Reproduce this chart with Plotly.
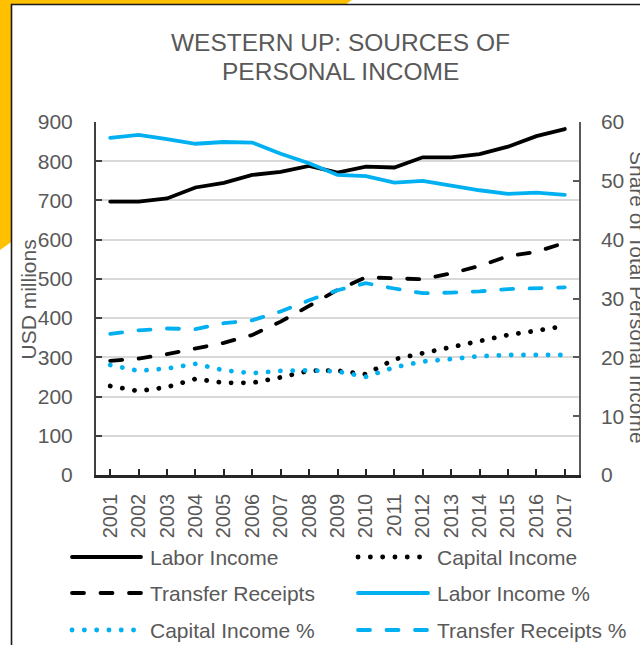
import plotly.graph_objects as go

years = ["2001", "2002", "2003", "2004", "2005", "2006", "2007", "2008", "2009",
         "2010", "2011", "2012", "2013", "2014", "2015", "2016", "2017"]

labor_income = [697, 697, 705, 733, 745, 765, 773, 788, 771, 786, 784, 810, 810, 818, 837, 864, 882]
capital_income = [227, 214, 224, 245, 235, 235, 249, 266, 266, 257, 295, 310, 326, 342, 357, 368, 380]
transfer_receipts = [291, 297, 308, 323, 337, 357, 391, 431, 472, 504, 501, 499, 514, 533, 558, 569, 592]

labor_pct = [57.3, 57.8, 57.1, 56.3, 56.6, 56.5, 54.6, 53.0, 51.0, 50.8, 49.7, 50.0, 49.2, 48.4, 47.8, 48.0, 47.6]
capital_pct = [18.7, 17.7, 18.1, 18.9, 17.8, 17.3, 17.7, 17.8, 17.6, 16.7, 18.3, 19.3, 19.7, 20.2, 20.4, 20.3, 20.4]
transfer_pct = [24.0, 24.6, 24.9, 24.8, 25.8, 26.3, 27.8, 29.7, 31.4, 32.6, 31.7, 30.9, 31.0, 31.2, 31.6, 31.7, 31.9]

left_ticks = [0, 100, 200, 300, 400, 500, 600, 700, 800, 900]
right_ticks = [0, 10, 20, 30, 40, 50, 60]

FONT = "Liberation Sans, Arial, sans-serif"
GREY = "#595959"
BLACK = "#000000"
BLUE = "#00B0F0"
DOT = "0.1px,12.2px"
DASH = "12px,16.5px"

W, H = 640, 645
L, R, T, B = 96, 579, 122, 475


def px(x):
    return (x - L) / (R - L)


def py(y):
    return (B - y) / (B - T)


fig = go.Figure()

series = [
    ("Labor Income", labor_income, BLACK, "solid", "y", 3.8),
    ("Capital Income", capital_income, BLACK, DOT, "y", 4.8),
    ("Transfer Receipts", transfer_receipts, BLACK, DASH, "y", 3.8),
    ("Labor Income %", labor_pct, BLUE, "solid", "y2", 3.8),
    ("Capital Income %", capital_pct, BLUE, DOT, "y2", 4.8),
    ("Transfer Receipts %", transfer_pct, BLUE, DASH, "y2", 3.8),
]
for name, vals, col, dash, yax, w in series:
    fig.add_trace(go.Scatter(x=years, y=vals, name=name, mode="lines", yaxis=yax,
                             line=dict(color=col, dash=dash, width=w), showlegend=False))

shapes = []
# yellow corner shape
shapes.append(dict(type="path", xref="paper", yref="paper", layer="below",
                   path=f"M{px(-10)},{py(-10)} L{px(366)},{py(-10)} L{px(-10)},{py(257)} Z",
                   fillcolor="#FFC000", line=dict(width=0)))
# white card
shapes.append(dict(type="rect", xref="paper", yref="paper", layer="below",
                   x0=px(11.5), y0=py(4.5), x1=px(700), y1=py(700),
                   fillcolor="white", line=dict(color="#1a1a1a", width=1.6)))

annotations = []
annotations.append(dict(text="WESTERN UP: SOURCES OF", xref="paper", yref="paper",
                        x=px(340), y=py(43), xanchor="center", yanchor="middle", showarrow=False,
                        font=dict(family=FONT, size=24.5, color=GREY)))
annotations.append(dict(text="PERSONAL INCOME", xref="paper", yref="paper",
                        x=px(340), y=py(72), xanchor="center", yanchor="middle", showarrow=False,
                        font=dict(family=FONT, size=24.5, color=GREY)))
annotations.append(dict(text="USD millions", xref="paper", yref="paper", textangle=-90,
                        x=px(27.5), y=py(300), xanchor="center", yanchor="middle", showarrow=False,
                        font=dict(family=FONT, size=21, color=GREY)))
annotations.append(dict(text="Share of Total Personal Income", xref="paper", yref="paper", textangle=90,
                        x=px(638), y=py(297), xanchor="center", yanchor="middle", showarrow=False,
                        font=dict(family=FONT, size=21, color=GREY)))

# manual legend
legend_pos = [(72, 141, 148, 557), (358, 428, 435, 557),
              (72, 141, 148, 593), (358, 428, 435, 593),
              (72, 141, 148, 630), (358, 428, 435, 630)]
for (name, vals, col, dash, yax, w), (x0, x1, xt, yy) in zip(series, legend_pos):
    shapes.append(dict(type="line", xref="paper", yref="paper",
                       x0=px(x0), x1=px(x1), y0=py(yy), y1=py(yy),
                       line=dict(color=col, dash=dash, width=w)))
    annotations.append(dict(text=name, xref="paper", yref="paper", x=px(xt), y=py(yy),
                            xanchor="left", yanchor="middle", showarrow=False,
                            font=dict(family=FONT, size=21, color=GREY)))

fig.update_layout(
    width=W, height=H,
    margin=dict(l=L, r=W - R, t=T, b=H - B, autoexpand=False),
    template="none",
    paper_bgcolor="white", plot_bgcolor="white",
    showlegend=False,
    shapes=shapes, annotations=annotations,
    font=dict(family=FONT, color=GREY),
    xaxis=dict(type="category", range=[-0.5, 16.5], tickangle=-90,
               ticks="inside", ticklen=6, tickwidth=1.5, tickcolor="#262626",
               showline=True, linecolor="#262626", linewidth=2.5, showgrid=False,
               zeroline=False, tickfont=dict(family=FONT, size=20, color=GREY),
               ticklabelstandoff=8, automargin=False),
    yaxis=dict(range=[0, 900], tickvals=left_ticks, ticks="inside", ticklen=6, tickwidth=1.5,
               tickcolor="#404040", showline=True, linecolor="#404040", linewidth=2,
               showgrid=True, gridcolor="#D9D9D9", gridwidth=1.5, zeroline=False,
               tickfont=dict(family=FONT, size=21, color=GREY), ticklabelstandoff=17,
               automargin=False),
    yaxis2=dict(range=[0, 60], tickvals=right_ticks, overlaying="y", side="right",
                ticks="inside", ticklen=6, tickwidth=1.5, tickcolor="#595959",
                showline=True, linecolor="#595959", linewidth=1.5, showgrid=False,
                zeroline=False, tickfont=dict(family=FONT, size=21, color=GREY),
                ticklabelstandoff=16, automargin=False),
)

post = ("document.body.style.margin='0';document.body.style.overflow='hidden';"
        "document.documentElement.style.overflow='hidden';"
        "document.querySelectorAll('.scatterlayer .js-line, .shapelayer path')"
        ".forEach(function(p){p.style.strokeLinecap='round';});")
fig.write_html("out.html", post_script=post, config={"displayModeBar": False})
